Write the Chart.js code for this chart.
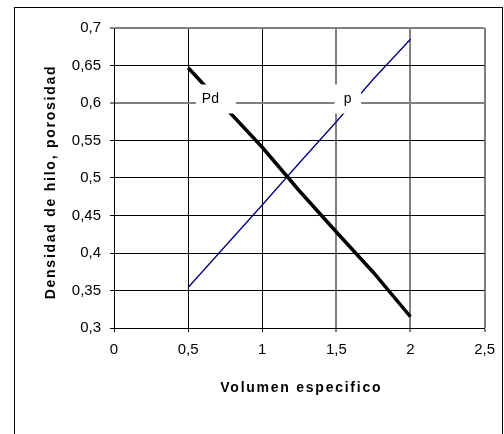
<!DOCTYPE html>
<html>
<head>
<meta charset="utf-8">
<script src="https://cdn.jsdelivr.net/npm/chart.js@4/dist/chart.umd.min.js"></script>
<style>
  html, body { margin: 0; padding: 0; background: #fff; }
  canvas { display: block; }
</style>
</head>
<body>
<canvas id="c" width="504" height="434"></canvas>
<script>
// Specific volume (x) and the two measured curves
const volumen = [0.5, 0.75, 1.0, 1.25, 1.5, 1.75, 2.0];
const densidadPd = [0.647, 0.594, 0.541, 0.483, 0.428, 0.374, 0.315];
const porosidadP = [0.354, 0.409, 0.464, 0.520, 0.575, 0.632, 0.685];

const seriesNames = ['Pd', 'p'];
const xTickLabels = ['0', '0,5', '1', '1,5', '2', '2,5'];
const yTickLabels = ['0,3', '0,35', '0,4', '0,45', '0,5', '0,55', '0,6', '0,65', '0,7'];
const xTitle = 'Volumen especifico';
const yTitle = 'Densidad de hilo, porosidad';

const FONT = '"Liberation Sans", Arial, sans-serif';
const near = (a, b) => Math.abs(a - b) < 1e-6;

// Outer frame around the whole chart object
const frame = {
  id: 'frame',
  beforeDraw(chart) {
    const ctx = chart.ctx;
    ctx.save();
    ctx.fillStyle = '#fff';
    ctx.fillRect(0, 0, chart.width, chart.height);
    ctx.strokeStyle = '#000';
    ctx.lineWidth = 1;
    ctx.strokeRect(14.5, 7.5, 488, 460);
    ctx.restore();
  }
};

// Axis titles, spaced out a little
const axisTitles = {
  id: 'axisTitles',
  afterDraw(chart) {
    const { ctx, chartArea: a } = chart;
    ctx.save();
    ctx.font = 'bold 14px ' + FONT;
    ctx.letterSpacing = '1.75px';
    ctx.fillStyle = '#000';
    ctx.textAlign = 'center';
    ctx.textBaseline = 'middle';
    ctx.fillText(xTitle, (a.left + a.right) / 2 + 2, 388);
    ctx.translate(51, (a.top + a.bottom) / 2 + 4);
    ctx.rotate(-Math.PI / 2);
    ctx.fillText(yTitle, 0, 0);
    ctx.restore();
  }
};

// Series name tags sitting on white boxes over the plot
const seriesTags = {
  id: 'seriesTags',
  afterDatasetsDraw(chart, args, opts) {
    const ctx = chart.ctx;
    const xs = chart.scales.x, ys = chart.scales.y;
    ctx.save();
    ctx.font = '14px ' + FONT;
    opts.tags.forEach(t => {
      const px = xs.getPixelForValue(t.x);
      const py = ys.getPixelForValue(t.y);
      ctx.fillStyle = '#fff';
      ctx.fillRect(px - t.padL, py - 18.5, t.padL + t.padR, 29);
      ctx.fillStyle = '#000';
      ctx.textAlign = 'center';
      ctx.textBaseline = 'middle';
      ctx.fillText(t.text, px, py - 3.5);
    });
    ctx.restore();
  }
};

const grayX = [1.5, 2, 2.5];
const grayY = [0.6, 0.7];

new Chart(document.getElementById('c'), {
  type: 'scatter',
  data: {
    datasets: [
      {
        label: seriesNames[0],
        data: volumen.map((v, i) => ({ x: v, y: densidadPd[i] })),
        showLine: true,
        borderColor: '#000',
        borderWidth: 3.5,
        pointRadius: 0,
        tension: 0
      },
      {
        label: seriesNames[1],
        data: volumen.map((v, i) => ({ x: v, y: porosidadP[i] })),
        showLine: true,
        borderColor: '#000080',
        borderWidth: 1.3,
        pointRadius: 0,
        tension: 0
      }
    ]
  },
  options: {
    responsive: false,
    animation: false,
    devicePixelRatio: 1,
    layout: { padding: { top: 28, right: 16, left: 0, bottom: 0 } },
    plugins: {
      legend: { display: false },
      tooltip: { enabled: false },
      seriesTags: {
        tags: [
          { text: seriesNames[0], x: 0.65, y: 0.6, padL: 14.5, padR: 25.5 },
          { text: seriesNames[1], x: 1.577, y: 0.6, padL: 13.3, padR: 13.3 }
        ]
      }
    },
    scales: {
      x: {
        type: 'linear',
        min: 0,
        max: 2.5,
        ticks: {
          stepSize: 0.5,
          autoSkip: false,
          maxRotation: 0,
          padding: 9,
          color: '#000',
          font: { family: FONT, size: 15 },
          callback: (v, i) => xTickLabels[i]
        },
        grid: {
          color: c => (c.tick && grayX.some(g => near(g, c.tick.value))) ? '#808080' : '#000',
          lineWidth: c => (c.tick && grayX.some(g => near(g, c.tick.value))) ? 2 : 1,
          tickLength: 4,
          tickColor: '#000',
          tickWidth: 1
        },
        border: { color: '#000', width: 1 },
        afterFit(s) { s.height = 106; }
      },
      y: {
        min: 0.3,
        max: 0.7,
        ticks: {
          stepSize: 0.05,
          autoSkip: false,
          padding: 9,
          color: '#000',
          font: { family: FONT, size: 15 },
          callback: (v, i) => yTickLabels[i]
        },
        grid: {
          color: c => (c.tick && grayY.some(g => near(g, c.tick.value))) ? '#808080' : '#000',
          lineWidth: c => (c.tick && grayY.some(g => near(g, c.tick.value))) ? 2 : 1,
          tickLength: 4,
          tickColor: '#000',
          tickWidth: 1
        },
        border: { color: '#000', width: 1 },
        afterFit(s) { s.width = 114; }
      }
    }
  },
  plugins: [frame, axisTitles, seriesTags]
});
</script>
</body>
</html>
